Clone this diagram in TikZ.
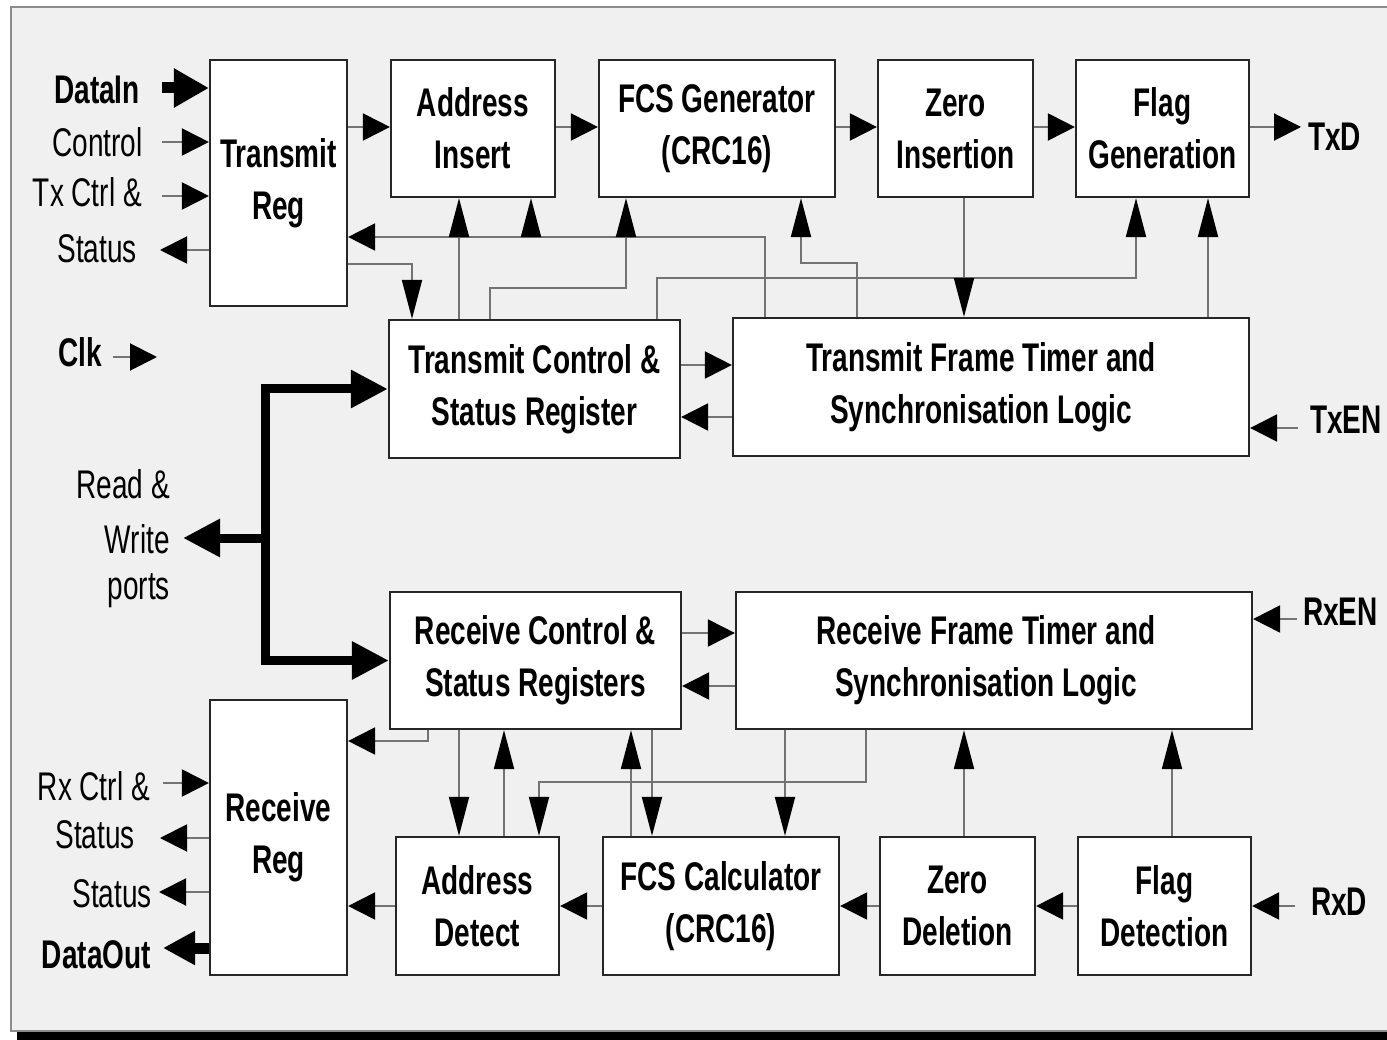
\documentclass[tikz,border=0pt]{standalone}
\usepackage{fontspec}
\setmainfont[FakeStretch=0.70]{Liberation Sans}
\usetikzlibrary{arrows.meta}
\definecolor{bgc}{HTML}{F0F0F0}
\begin{document}
\begin{tikzpicture}[x=1pt,y=-1pt,
  blk/.style={draw=black!85, line width=2.2pt, fill=white, inner sep=0pt, align=center, font=\fontsize{40}{52}\selectfont\bfseries},
  intext/.style={inner sep=0pt, align=center, font=\fontsize{40}{52}\selectfont\bfseries},
  lbl/.style={inner sep=0pt, font=\fontsize{40}{52}\selectfont},
  blbl/.style={inner sep=0pt, font=\fontsize{40}{52}\selectfont\bfseries},
  con/.style={draw=black!55, line width=2pt},
  ht/.style={-{Triangle[length=27pt,width=27pt,color=black]}},
  vt/.style={-{Triangle[length=39pt,width=20pt,color=black]}},
  bus/.style={draw=black, line width=9pt},
  Bustip/.tip={Triangle[length=37pt,width=36pt]},
]
\useasboundingbox (0,0) rectangle (1387,1040);
\fill[white] (0,0) rectangle (1387,1040);
\filldraw[fill=bgc, draw=black!45, line width=1.5pt] (11,7) rectangle (1400,1031);
\fill[black] (17,1032) rectangle (1387,1040);

% blocks
\node[blk, minimum width=137pt, minimum height=246pt] (treg) at (278.5,183) {Transmit\\Reg};
\node[blk, minimum width=164pt, minimum height=137pt] (ains) at (473,128.5) {Address\\Insert};
\node[blk, minimum width=236pt, minimum height=137pt] (fcsg) at (717,128.5) {FCS Generator\\(CRC16)};
\node[blk, minimum width=155pt, minimum height=137pt] (zins) at (955.5,128.5) {Zero\\Insertion};
\node[blk, minimum width=173pt, minimum height=137pt] (fgen) at (1162.5,128.5) {Flag\\Generation};
\node[blk, minimum width=291pt, minimum height=138pt] (tcsr) at (534.5,389) {Transmit Control \&\\Status Register};
\node[blk, minimum width=516pt, minimum height=138pt,
  label={[intext, xshift=-10pt]center:Transmit Frame Timer and\\Synchronisation Logic}] (tft) at (991,387) {};
\node[blk, minimum width=291pt, minimum height=137pt] (rcsr) at (535.5,660.5) {Receive Control \&\\Status Registers};
\node[blk, minimum width=516pt, minimum height=137pt,
  label={[intext, xshift=-8pt]center:Receive Frame Timer and\\Synchronisation Logic}] (rft) at (994,660.5) {};
\node[blk, minimum width=137pt, minimum height=275pt] (rreg) at (278.5,837.5) {Receive\\Reg};
\node[blk, minimum width=163pt, minimum height=138pt] (adet) at (477.5,906) {Address\\Detect};
\node[blk, minimum width=236pt, minimum height=138pt] (fcsc) at (721,906) {FCS Calculator\\(CRC16)};
\node[blk, minimum width=155pt, minimum height=138pt] (zdel) at (957.5,906) {Zero\\Deletion};
\node[blk, minimum width=173pt, minimum height=138pt] (fdet) at (1164.5,906) {Flag\\Detection};

% labels
\node[blbl, anchor=base east] (ldin) at (140,104) {DataIn};
\node[lbl, anchor=base east] (lctl) at (143,157) {Control};
\node[lbl, anchor=base east] (ltxc) at (142,207) {Tx Ctrl \&};
\node[lbl, anchor=base east] (lst1) at (137,263) {Status};
\node[blbl, anchor=base west] (lclk) at (58,367) {Clk};
\node[lbl, anchor=base east] (lrw1) at (170,498) {Read \&};
\node[lbl, anchor=base east] (lrw2) at (170,553) {Write};
\node[lbl, anchor=base east] (lrw3) at (170,599) {ports};
\node[lbl, anchor=base east] (lrxc) at (150,800) {Rx Ctrl \&};
\node[lbl, anchor=base east] (lst2) at (135,848) {Status};
\node[lbl, anchor=base east] (lst3) at (152,907) {Status};
\node[blbl, anchor=base east] (ldout) at (151,968) {DataOut};
\node[blbl, anchor=base west] (ltxd) at (1308,151) {TxD};
\node[blbl, anchor=base west] (ltxen) at (1310,433) {TxEN};
\node[blbl, anchor=base west] (lrxen) at (1303,625) {RxEN};
\node[blbl, anchor=base west] (lrxd) at (1311,915) {RxD};

% free ends
\coordinate (din) at (162,88);
\coordinate (cctl) at (162,142);
\coordinate (ctxc) at (162,196);
\coordinate (cst1) at (160,250);
\coordinate (clka) at (113,357);
\coordinate (clkb) at (157,357);
\coordinate (ctxd) at (1301,127);
\coordinate (ctxen) at (1298,428);
\coordinate (crxen) at (1297,619);
\coordinate (crxd) at (1295,906);
\coordinate (crxc) at (163,783);
\coordinate (cst2) at (160,838);
\coordinate (cst3) at (159,892);
\coordinate (cdout) at (163,948);
\coordinate (crw) at (183,538);
\coordinate (fb) at (531,237);

% transmit side
\draw[line width=11pt, -{Triangle[length=35pt,width=37pt]}] (din) -- (treg.west |- din);
\draw[con,ht] (cctl) -- (treg.west |- cctl);
\draw[con,ht] (ctxc) -- (treg.west |- ctxc);
\draw[con,ht] (treg.west |- cst1) -- (cst1);
\draw[con,ht] (treg.east |- 0,127) -- (ains.west |- 0,127);
\draw[con,ht] (ains.east |- 0,127) -- (fcsg.west |- 0,127);
\draw[con,ht] (fcsg.east |- 0,127) -- (zins.west |- 0,127);
\draw[con,ht] (zins.east |- 0,127) -- (fgen.west |- 0,127);
\draw[con,ht] (fgen.east |- 0,127) -- (ctxd);
\draw[con,ht] (765,0 |- tft.north) -- (765,237) -- (treg.east |- fb);
\draw[con,vt] (fb) -- (fb |- ains.south);
\draw[con,vt] (treg.east |- 0,264) -- (412,264) -- (412,0 |- tcsr.north);
\draw[con,vt] (459,0 |- tcsr.north) -- (459,0 |- ains.south);
\draw[con,vt] (490,0 |- tcsr.north) -- (490,288) -- (626,288) -- (626,0 |- fcsg.south);
\draw[con,vt] (657,0 |- tcsr.north) -- (657,278) -- (1136,278) -- (1136,0 |- fgen.south);
\draw[con,vt] (857,0 |- tft.north) -- (857,263) -- (801,263) -- (801,0 |- fcsg.south);
\draw[con,vt] (964,0 |- zins.south) -- (964,0 |- tft.north);
\draw[con,vt] (1208,0 |- tft.north) -- (1208,0 |- fgen.south);
\draw[con,ht] (tcsr.east |- 0,365) -- (tft.west |- 0,365);
\draw[con,ht] (tft.west |- 0,417) -- (tcsr.east |- 0,417);
\draw[con,ht] (ctxen) -- (tft.east |- ctxen);
\draw[con,ht] (clka) -- (clkb);

% bus
\draw[bus, {Bustip}-{Bustip}] (tcsr.west) -- (265,0 |- tcsr.west) -- (265,0 |- rcsr.west) -- (rcsr.west);
\draw[bus, -{Bustip}] (265,0 |- crw) -- (crw);

% receive side
\draw[con,ht] (crxen) -- (rft.east |- crxen);
\draw[con,ht] (rcsr.east |- 0,633) -- (rft.west |- 0,633);
\draw[con,ht] (rft.west |- 0,686) -- (rcsr.east |- 0,686);
\draw[con,ht] (428,0 |- rcsr.south) -- (428,741) -- (rreg.east |- 0,741);
\draw[con,vt] (459,0 |- rcsr.south) -- (459,0 |- adet.north);
\draw[con,vt] (504,0 |- adet.north) -- (504,0 |- rcsr.south);
\draw[con,vt] (631,0 |- fcsc.north) -- (631,0 |- rcsr.south);
\draw[con,vt] (652,0 |- rcsr.south) -- (652,0 |- fcsc.north);
\draw[con,vt] (785,0 |- rft.south) -- (785,0 |- fcsc.north);
\draw[con,vt] (866,0 |- rft.south) -- (866,782) -- (539,782) -- (539,0 |- adet.north);
\draw[con,vt] (964,0 |- zdel.north) -- (964,0 |- rft.south);
\draw[con,vt] (1172,0 |- fdet.north) -- (1172,0 |- rft.south);
\draw[con,ht] (crxd) -- (fdet.east |- crxd);
\draw[con,ht] (fdet.west) -- (zdel.east);
\draw[con,ht] (zdel.west) -- (fcsc.east);
\draw[con,ht] (fcsc.west) -- (adet.east);
\draw[con,ht] (adet.west) -- (rreg.east |- adet.west);
\draw[con,ht] (crxc) -- (rreg.west |- crxc);
\draw[con,ht] (rreg.west |- cst2) -- (cst2);
\draw[con,ht] (rreg.west |- cst3) -- (cst3);
\draw[line width=11pt, -{Triangle[length=32pt,width=32pt]}] (rreg.west |- cdout) -- (cdout);
\end{tikzpicture}
\end{document}
